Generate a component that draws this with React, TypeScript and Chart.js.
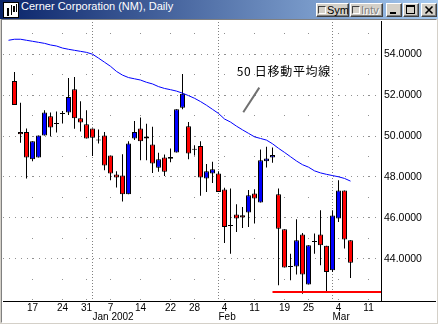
import React, { useEffect, useRef } from "react";
import { Chart, registerables } from "chart.js";

Chart.register(...registerables);

const TITLE = "Cerner Corporation (NM), Daily";

// Trading days (categories); x value of a candle = its index in this list
const tradingDays = [
  "2001-12-12", "2001-12-13", "2001-12-14",
  "2001-12-17", "2001-12-18", "2001-12-19", "2001-12-20", "2001-12-21",
  "2001-12-24", "2001-12-26", "2001-12-27", "2001-12-28",
  "2001-12-31", "2002-01-02", "2002-01-03", "2002-01-04",
  "2002-01-07", "2002-01-08", "2002-01-09", "2002-01-10", "2002-01-11",
  "2002-01-14", "2002-01-15", "2002-01-16", "2002-01-17", "2002-01-18",
  "2002-01-22", "2002-01-23", "2002-01-24", "2002-01-25",
  "2002-01-28", "2002-01-29", "2002-01-30", "2002-01-31", "2002-02-01",
  "2002-02-04", "2002-02-05", "2002-02-06", "2002-02-07", "2002-02-08",
  "2002-02-11", "2002-02-12", "2002-02-13", "2002-02-14", "2002-02-15",
  "2002-02-19", "2002-02-20", "2002-02-21", "2002-02-22",
  "2002-02-25", "2002-02-26", "2002-02-27", "2002-02-28", "2002-03-01",
  "2002-03-04", "2002-03-05", "2002-03-06",
];

const openP = [
  51.51, 50.09, 48.95, 49.75, 50.03, 51.15, 50.42, 50.58, 51.07, 51.90,
  50.86, 50.66, 49.88, 49.91, 49.78, 48.56, 48.17, 47.98, 47.16, 49.64,
  50.19, 49.75, 49.98, 48.66, 48.87, 48.25, 48.98, 51.30, 52.06, 49.15,
  49.33, 47.98, 48.28, 48.38, 47.27, 45.56, 45.61, 45.97, 46.02, 47.11,
  46.95, 48.82, 48.90, 49.07, 45.48, 43.58, 43.61, 44.92, 43.24, 44.67,
  44.83, 44.67, 43.37, 46.12, 47.34, 44.95, 43.82,
];
const highP = [
  53.12, 51.62, 50.37, 49.75, 50.03, 51.26, 51.15, 51.20, 51.22, 52.83,
  52.88, 51.70, 51.26, 50.37, 50.32, 50.20, 49.05, 48.28, 49.11, 49.75,
  50.73, 50.90, 50.60, 50.45, 49.18, 49.10, 49.39, 51.30, 53.02, 50.68,
  49.55, 49.75, 48.63, 48.74, 48.28, 47.47, 47.44, 46.67, 46.54, 47.36,
  47.40, 49.34, 49.47, 49.44, 47.44, 45.45, 44.26, 45.94, 45.27, 44.67,
  45.24, 46.38, 44.65, 46.38, 47.84, 47.34, 44.91,
];
const lowP = [
  51.51, 49.67, 47.93, 48.77, 48.95, 50.03, 49.98, 50.17, 50.61, 51.02,
  50.35, 50.22, 49.88, 49.03, 49.64, 48.33, 47.84, 47.49, 46.80, 47.16,
  49.80, 48.82, 48.82, 48.20, 48.25, 48.05, 48.72, 49.20, 51.30, 48.86,
  49.05, 47.08, 47.27, 47.71, 47.27, 44.78, 44.26, 45.32, 45.51, 45.56,
  45.73, 46.76, 48.46, 48.69, 42.72, 43.58, 42.96, 43.24, 42.31, 42.75,
  44.26, 43.69, 42.39, 43.37, 45.81, 44.51, 43.07,
];
const closeP = [
  52.68, 50.19, 50.19, 48.87, 48.95, 50.03, 50.96, 50.58, 51.07, 51.15,
  52.28, 50.86, 50.57, 50.37, 49.78, 50.03, 49.05, 48.12, 48.07, 47.16,
  49.88, 50.37, 49.88, 49.59, 48.45, 48.95, 48.89, 49.20, 51.38, 50.47,
  49.33, 49.51, 47.93, 48.17, 48.17, 47.39, 45.61, 46.17, 46.13, 46.27,
  47.19, 46.76, 48.77, 48.95, 47.16, 45.45, 43.61, 43.64, 45.19, 42.75,
  44.83, 45.19, 44.65, 43.45, 45.97, 47.34, 44.91,
];

// 50-day moving average, starting one trading day before the first candle
const maStartIdx = -1;
const ma50 = [
  54.67, 54.72, 54.72, 54.67, 54.62, 54.57, 54.52, 54.44, 54.39, 54.29,
  54.23, 54.18, 54.13, 54.08, 53.99, 53.80, 53.60, 53.40, 53.15, 52.97,
  52.85, 52.79, 52.73, 52.62, 52.54, 52.41, 52.32, 52.26, 52.19, 52.09,
  51.97, 51.84, 51.68, 51.50, 51.30, 51.10, 50.83, 50.68, 50.48, 50.30,
  50.13, 49.96, 49.88, 49.80, 49.62, 49.40, 49.20, 48.99, 48.78, 48.60,
  48.48, 48.30, 48.20, 48.13, 48.07, 48.01, 47.93, 47.80,
];

const supportLevel = 42.39;
const supportFromIdx = 43;

const weekTickIdx = [3, 8, 12, 16, 21, 26, 30, 35, 40, 45, 49, 54, 59];
const weekTickLabels = ["17", "24", "31", "7", "14", "22", "28", "4", "11", "19", "25", "4", "11"];
const monthTickIdx = [13, 34, 53];
const monthTickLabels = ["Jan 2002", "Feb", "Mar"];
const priceTicks = [44, 46, 48, 50, 52, 54];

const maLabelText = "50 日移動平均線";

// axis ranges
const X_MIN = -1.91667;
const X_MAX = 61.08333;
const Y_MIN = 41.951;
const Y_MAX = 55.61;

// annotation anchor points (data coordinates)
const maLabelAt = { x: 37.03, y: 53.17 };
const maPointerFrom = { x: 38.13, y: 51.16 };
const maPointerTo = { x: 40.8, y: 52.36 };

const FONT = '"Liberation Sans", Arial, sans-serif';

const decorPlugin = {
  id: "decor",
  beforeDatasetsDraw(chart: any) {
    const { ctx, chartArea } = chart;
    const xs = chart.scales.x;
    const ys = chart.scales.y;
    ctx.save();
    // month separators (dense dotted verticals)
    ctx.fillStyle = "#808080";
    for (const mi of monthTickIdx) {
      const px = Math.floor(xs.getPixelForValue(mi));
      for (let py = Math.ceil(chartArea.top) + 1; py < chartArea.bottom; py += 3) {
        ctx.fillRect(px, py, 1, 1);
      }
    }
    // weekly dots at every whole price
    ctx.fillStyle = "#909090";
    for (const wi of weekTickIdx) {
      const px = Math.floor(xs.getPixelForValue(wi));
      if (px < chartArea.left || px >= chartArea.right) continue;
      for (let v = 42; v <= 55; v++) {
        const py = Math.floor(ys.getPixelForValue(v));
        if (py < chartArea.top || py >= chartArea.bottom) continue;
        ctx.fillRect(px, py, 1, 1);
      }
    }
    ctx.restore();
  },
  afterDatasetsDraw(chart: any) {
    const { ctx } = chart;
    const xs = chart.scales.x;
    const ys = chart.scales.y;
    ctx.save();
    ctx.strokeStyle = "#707070";
    ctx.lineWidth = 2;
    ctx.beginPath();
    ctx.moveTo(xs.getPixelForValue(maPointerFrom.x), ys.getPixelForValue(maPointerFrom.y));
    ctx.lineTo(xs.getPixelForValue(maPointerTo.x), ys.getPixelForValue(maPointerTo.y));
    ctx.stroke();
    ctx.fillStyle = "#000";
    ctx.font = '12px "Noto Sans CJK JP", sans-serif';
    ctx.textBaseline = "middle";
    ctx.textAlign = "left";
    try { (ctx as any).letterSpacing = "0.7px"; } catch (e) {}
    ctx.fillText(maLabelText, xs.getPixelForValue(maLabelAt.x), ys.getPixelForValue(maLabelAt.y));
    ctx.restore();
  },
  afterDraw(chart: any) {
    const { ctx, chartArea, width } = chart;
    ctx.save();
    ctx.fillStyle = "#000";
    ctx.fillRect(chartArea.right, chartArea.bottom, width - chartArea.right, 1);
    ctx.restore();
  },
};

function btnStyle(left: number, width: number): React.CSSProperties {
  return {
    position: "absolute",
    left,
    top: 3,
    width,
    height: 14,
    boxSizing: "border-box",
    background: "#d4d0c8",
    borderTop: "1px solid #ffffff",
    borderLeft: "1px solid #ffffff",
    borderRight: "1px solid #404040",
    borderBottom: "1px solid #404040",
    boxShadow: "inset -1px -1px 0 #808080",
    font: `11px ${FONT}`,
    lineHeight: "12px",
    color: "#000",
    overflow: "hidden",
  };
}

const checkStyle: React.CSSProperties = {
  position: "absolute",
  left: 1,
  top: 2,
  width: 8,
  height: 8,
  boxSizing: "border-box",
  borderTop: "1px solid #404040",
  borderLeft: "1px solid #404040",
  borderRight: "1px solid #ffffff",
  borderBottom: "1px solid #ffffff",
  background: "#d4d0c8",
};

export default function App() {
  const ref = useRef<HTMLCanvasElement>(null);

  useEffect(() => {
    document.body.style.margin = "0";
    const canvas = ref.current!;
    const bodyColors = openP.map((o, i) =>
      closeP[i] > o ? "#ff0000" : closeP[i] < o ? "#0000ff" : "#000000"
    );
    const chart = new Chart(canvas, {
      type: "bar",
      data: {
        datasets: [
          {
            type: "line",
            label: "MA50",
            data: ma50.map((v, i) => ({ x: maStartIdx + i, y: v })),
            borderColor: "#0000ff",
            borderWidth: 1,
            pointRadius: 0,
            tension: 0,
            order: 0,
            xAxisID: "x",
            yAxisID: "y",
          },
          {
            type: "line",
            label: "support",
            data: [
              { x: supportFromIdx, y: supportLevel },
              { x: X_MAX, y: supportLevel },
            ],
            borderColor: "#ff0000",
            borderWidth: 2,
            pointRadius: 0,
            order: 1,
            xAxisID: "x",
            yAxisID: "y",
          },
          {
            type: "bar",
            label: "body",
            data: openP.map((o, i) => ({ x: i, y: [o, closeP[i]] })),
            backgroundColor: bodyColors,
            borderColor: "#000000",
            borderWidth: 1,
            borderSkipped: false,
            barThickness: 5,
            grouped: false,
            minBarLength: 1,
            inflateAmount: 0,
            order: 2,
            xAxisID: "x",
            yAxisID: "y",
          },
          {
            type: "bar",
            label: "wick",
            data: lowP.map((l, i) => ({ x: i, y: [l, highP[i]] })),
            backgroundColor: "#000000",
            borderWidth: 0,
            barThickness: 1,
            grouped: false,
            inflateAmount: 0,
            order: 3,
            xAxisID: "x",
            yAxisID: "y",
          },
        ] as any,
      },
      options: {
        responsive: false,
        maintainAspectRatio: false,
        animation: false,
        layout: { padding: 0 },
        plugins: { legend: { display: false }, tooltip: { enabled: false } },
        scales: {
          x: {
            type: "linear",
            position: "bottom",
            weight: 0,
            min: X_MIN,
            max: X_MAX,
            offset: false,
            afterBuildTicks: (s: any) => {
              s.ticks = weekTickIdx.map((v) => ({ value: v }));
            },
            afterFit: (s: any) => {
              s.height = 10;
              s.paddingLeft = 0;
              s.paddingRight = 0;
            },
            ticks: {
              autoSkip: false,
              maxRotation: 0,
              minRotation: 0,
              padding: 1,
              color: "#000",
              font: { family: FONT, size: 10 },
              callback: (_v: any, i: number) => weekTickLabels[i],
            },
            grid: { display: false, drawTicks: false },
            border: { display: true, color: "#000", width: 1 },
          },
          xm: {
            type: "linear",
            position: "bottom",
            weight: 1,
            min: X_MIN,
            max: X_MAX,
            offset: false,
            afterBuildTicks: (s: any) => {
              s.ticks = monthTickIdx.map((v) => ({ value: v }));
            },
            afterFit: (s: any) => {
              s.height = 11;
              s.paddingLeft = 0;
              s.paddingRight = 0;
            },
            ticks: {
              autoSkip: false,
              maxRotation: 0,
              minRotation: 0,
              align: "start",
              padding: 0,
              color: "#000",
              font: { family: FONT, size: 10 },
              callback: (_v: any, i: number) => monthTickLabels[i],
            },
            grid: { display: false, drawTicks: false },
            border: { display: false },
          },
          y: {
            type: "linear",
            position: "right",
            min: Y_MIN,
            max: Y_MAX,
            afterBuildTicks: (s: any) => {
              s.ticks = priceTicks.map((v) => ({ value: v }));
            },
            afterFit: (s: any) => {
              s.width = 55;
              s.paddingTop = 0;
              s.paddingBottom = 0;
            },
            ticks: {
              padding: 3,
              color: "#000",
              font: { family: FONT, size: 10.5 },
              callback: (v: any) => Number(v).toFixed(4),
            },
            grid: { display: true, drawTicks: false, color: "#909090", lineWidth: 1 },
            border: { display: true, color: "#000", width: 1, dash: [1, 5] },
          },
        } as any,
      },
      plugins: [decorPlugin],
    });
    return () => chart.destroy();
  }, []);

  return (
    <div
      style={{
        position: "fixed",
        left: 0,
        top: 0,
        width: 438,
        height: 324,
        background: "#d4d0c8",
        overflow: "hidden",
      }}
    >
      {/* title bar */}
      <div
        style={{
          position: "absolute",
          left: 0,
          top: 0,
          width: 438,
          height: 19,
          background: "linear-gradient(to right, #0a246a, #a6caf0)",
        }}
      />
      <div
        style={{
          position: "absolute",
          left: 3,
          top: 2,
          width: 16,
          height: 16,
          boxSizing: "border-box",
          background: "#ffffff",
          border: "1px solid #000",
        }}
      >
        <div style={{ position: "absolute", left: 3, top: 5, width: 2, height: 8, background: "#000" }} />
        <div style={{ position: "absolute", left: 7, top: 2, width: 1, height: 10, background: "#000" }} />
        <div style={{ position: "absolute", left: 9, top: 3, width: 2, height: 6, background: "#000" }} />
        <div style={{ position: "absolute", left: 12, top: 1, width: 1, height: 8, background: "#000" }} />
      </div>
      <div
        style={{
          position: "absolute",
          left: 21,
          top: 0,
          height: 19,
          lineHeight: "19px",
          color: "#ffffff",
          font: `11px ${FONT}`,
          whiteSpace: "nowrap",
        }}
      >
        {TITLE}
      </div>
      {/* toolbar buttons */}
      <div style={btnStyle(316, 33)}>
        <div style={checkStyle} />
        <span style={{ position: "absolute", left: 10, top: 0 }}>Sym</span>
      </div>
      <div style={btnStyle(350, 33)}>
        <div style={checkStyle} />
        <span style={{ position: "absolute", left: 10, top: 0, color: "#808080", textShadow: "1px 1px 0 #ffffff" }}>Intv</span>
      </div>
      <div style={btnStyle(386, 16)}>
        <div style={{ position: "absolute", left: 3, top: 8, width: 6, height: 2, background: "#000" }} />
      </div>
      <div style={btnStyle(403, 16)}>
        <div
          style={{
            position: "absolute",
            left: 2,
            top: 1,
            width: 9,
            height: 9,
            boxSizing: "border-box",
            border: "1px solid #000",
            borderTop: "2px solid #000",
          }}
        />
      </div>
      <div style={btnStyle(421, 16)}>
        <svg width="14" height="12" style={{ position: "absolute", left: 0, top: 0 }}>
          <path d="M3.5 2.5 L10.5 9.5 M10.5 2.5 L3.5 9.5" stroke="#000" strokeWidth="1.6" />
        </svg>
      </div>
      {/* chart panel */}
      <div
        style={{
          position: "absolute",
          left: 1,
          top: 19,
          width: 436,
          height: 304,
          boxSizing: "border-box",
          borderTop: "1px solid #808080",
          borderLeft: "1px solid #808080",
          borderRight: "1px solid #ffffff",
          borderBottom: "1px solid #ffffff",
          background: "#ffffff",
        }}
      />
      <canvas
        ref={ref}
        width={433}
        height={301}
        style={{ position: "absolute", left: 3, top: 21, width: 433, height: 301, background: "#ffffff" }}
      />
    </div>
  );
}
